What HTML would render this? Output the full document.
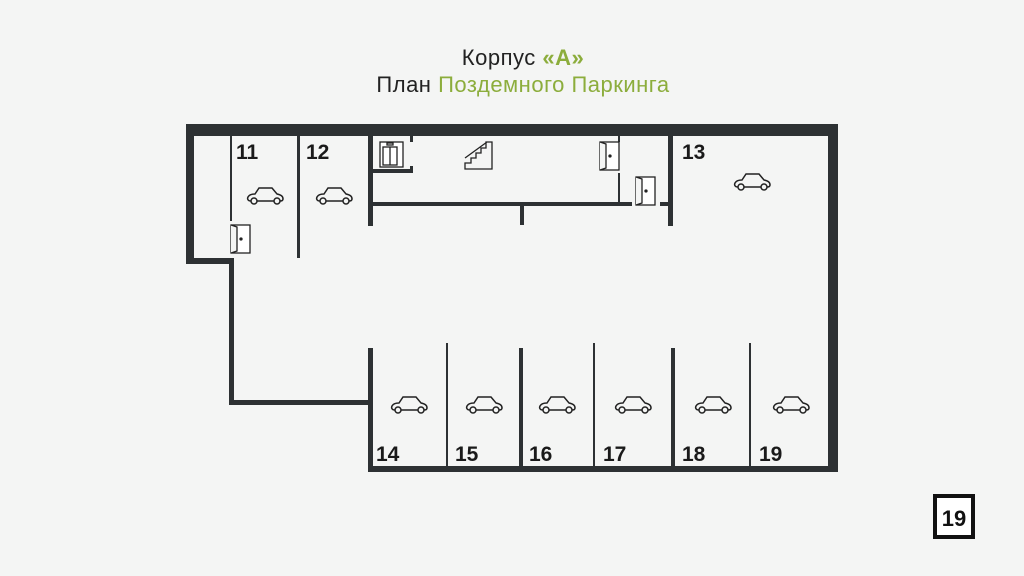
<!DOCTYPE html>
<html><head><meta charset="utf-8"><style>
html,body{margin:0;padding:0;background:#f4f5f4;}
svg{display:block}
</style></head><body>
<svg width="1024" height="576" viewBox="0 0 1024 576" xmlns="http://www.w3.org/2000/svg">
<defs>
<g id="car" fill="none" stroke="#222" stroke-width="1.5">
<path d="M4,15 C1,15 0,13 1,11 C2,9 5,8 8,8 L12,2 L25,2 L30,8 C34,9 36,10 36,13 C36,15 34,15 33,15 M27,15 L10,15"/>
<circle cx="7" cy="15" r="3"/><circle cx="30" cy="15" r="3"/>
</g>
<g id="door" fill="none" stroke="#222" stroke-width="1.3">
<rect x="0" y="0" width="19" height="28" fill="#fff"/>
<path d="M0,0 L6,2 L6,26 L0,28" fill="#f4f5f4"/>
<circle cx="10" cy="14" r="1" fill="#222"/>
</g>
</defs>
<rect width="1024" height="576" fill="#f4f5f4"/>
<g font-family="'Liberation Sans','DejaVu Sans',sans-serif" font-size="22" text-anchor="middle">
<text x="523" y="65" fill="#222" letter-spacing="0.5">Корпус <tspan fill="#8cad3c" font-weight="bold">«А»</tspan></text>
<text x="523" y="92" fill="#222" letter-spacing="0.5">План <tspan fill="#8cad3c">Поздемного Паркинга</tspan></text>
</g>
<g fill="#2d3133">
<rect x="186" y="124" width="652" height="12"/>
<rect x="186" y="124" width="8" height="139"/>
<rect x="186" y="258" width="48" height="6"/>
<rect x="229" y="258" width="5" height="147"/>
<rect x="229" y="400" width="144" height="5"/>
<rect x="368" y="348" width="5" height="124"/>
<rect x="368" y="466" width="470" height="6"/>
<rect x="828" y="124" width="10" height="348"/>
<rect x="230" y="136" width="2" height="85"/>
<rect x="297" y="136" width="3" height="122"/>
<rect x="368" y="136" width="5" height="90"/>
<rect x="368" y="169" width="45" height="4"/>
<rect x="410" y="136" width="3" height="6"/>
<rect x="410" y="166" width="3" height="7"/>
<rect x="368" y="202" width="264" height="4"/>
<rect x="660" y="202" width="13" height="4"/>
<rect x="520" y="202" width="4" height="23"/>
<rect x="618" y="136" width="2" height="6"/>
<rect x="618" y="173" width="2" height="31"/>
<rect x="668" y="136" width="5" height="90"/>
<rect x="446" y="343" width="2" height="124"/>
<rect x="519" y="348" width="4" height="119"/>
<rect x="593" y="343" width="2" height="124"/>
<rect x="671" y="348" width="4" height="119"/>
<rect x="749" y="343" width="2" height="124"/>
</g>
<use href="#door" x="231" y="225"/>
<use href="#door" x="600" y="142"/>
<use href="#door" x="636" y="177"/>
<g fill="none" stroke="#222" stroke-width="1.3">
<rect x="380" y="142" width="23" height="25" fill="#fff"/>
<rect x="383" y="147" width="14" height="18"/>
<line x1="390" y1="147" x2="390" y2="165"/>
<rect x="387" y="143" width="6" height="2"/>
<path d="M465,169 L465,163 L471,163 L471,158 L476,158 L476,153 L481,153 L481,148 L486,148 L486,142 L492,142 L492,169 Z M465,158 L487,142"/>
</g>
<use href="#car" x="247" y="186"/>
<use href="#car" x="316" y="186"/>
<use href="#car" x="734" y="172"/>
<use href="#car" x="391" y="395"/>
<use href="#car" x="466" y="395"/>
<use href="#car" x="539" y="395"/>
<use href="#car" x="615" y="395"/>
<use href="#car" x="695" y="395"/>
<use href="#car" x="773" y="395"/>
<g font-family="'Liberation Sans','DejaVu Sans',sans-serif" font-size="21" font-weight="bold" fill="#1a1a1a">
<text x="236" y="159">11</text>
<text x="306" y="159">12</text>
<text x="682" y="159">13</text>
<text x="376" y="461">14</text>
<text x="455" y="461">15</text>
<text x="529" y="461">16</text>
<text x="603" y="461">17</text>
<text x="682" y="461">18</text>
<text x="759" y="461">19</text>
</g>
<rect x="935" y="496" width="38" height="41" fill="#fff" stroke="#111" stroke-width="4"/>
<text x="954" y="526" font-family="'Liberation Sans',sans-serif" font-size="22" font-weight="bold" text-anchor="middle" fill="#111">19</text>
</svg>
</body></html>
